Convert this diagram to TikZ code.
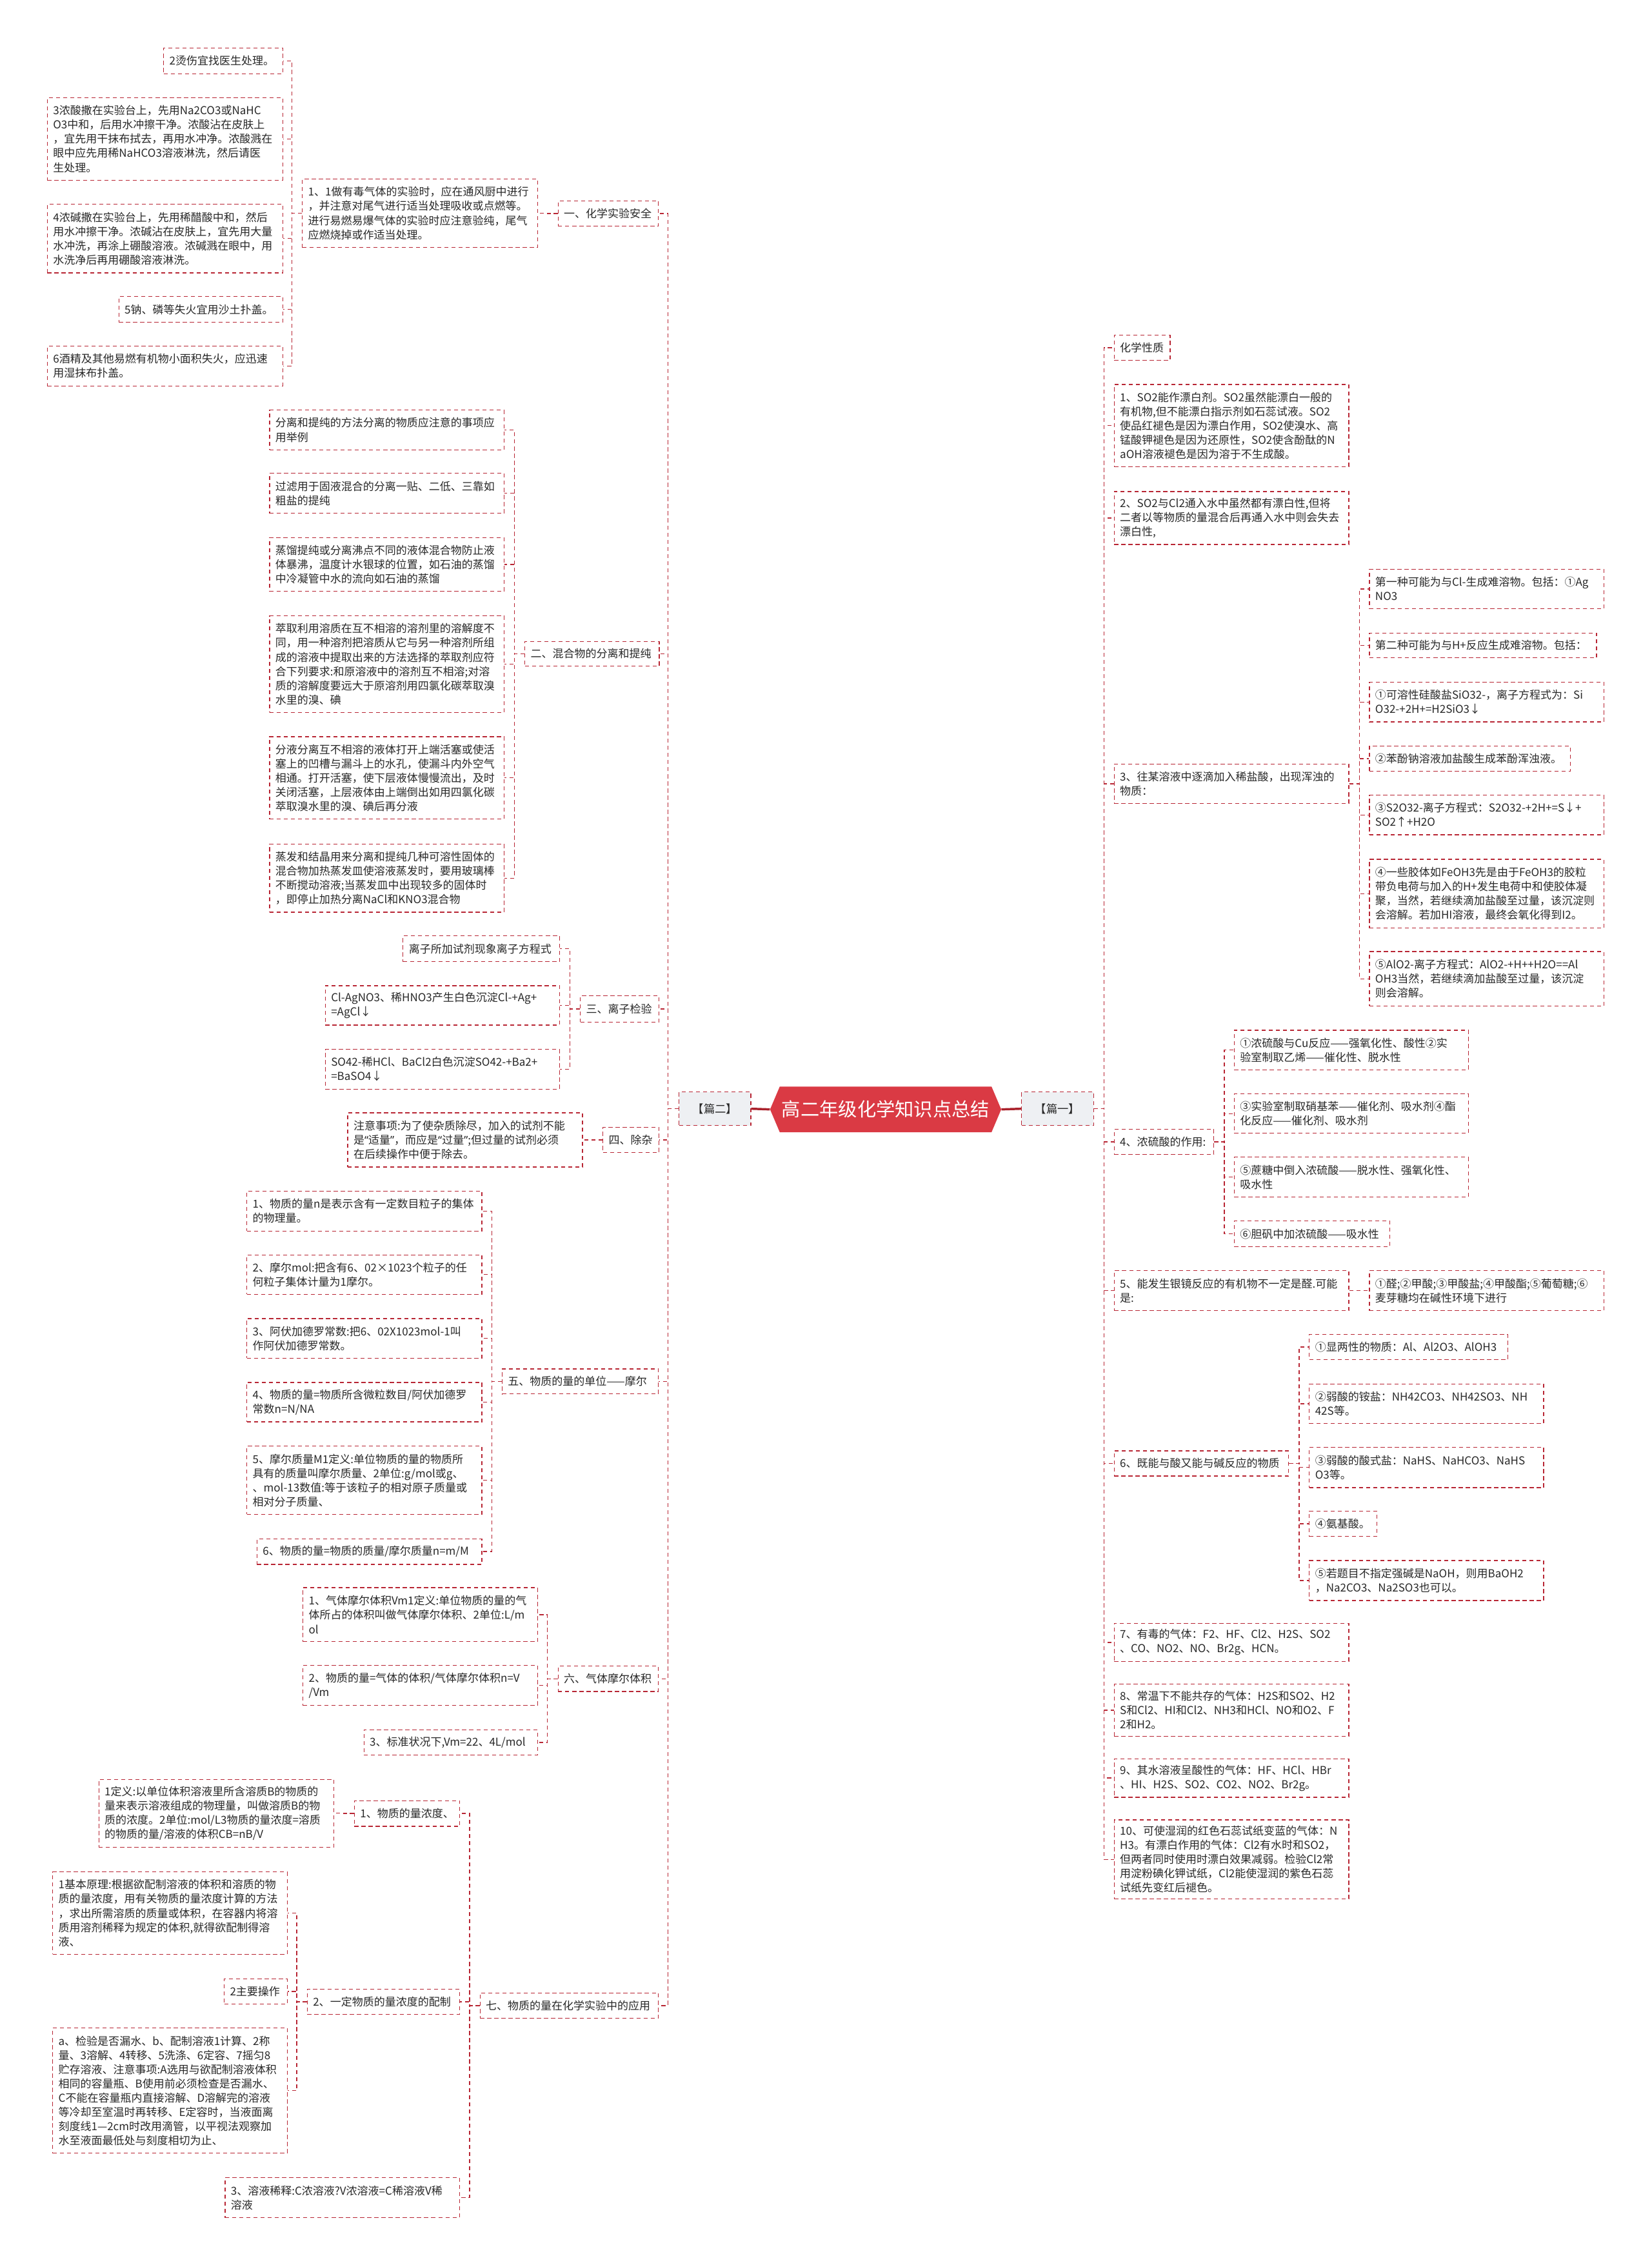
\documentclass[tikz,border=0pt]{standalone}
\usepackage{fontspec}
\setmainfont{Noto Sans CJK SC}
\newfontfamily\latq{Noto Sans}
\usepackage{tikz}
\usetikzlibrary{shapes.symbols}
\definecolor{mred}{RGB}{184,38,52}
\definecolor{tred}{RGB}{218,58,68}
\definecolor{dred}{RGB}{170,34,44}
\definecolor{pgray}{RGB}{238,240,243}
\definecolor{tgray}{RGB}{40,40,40}
\exhyphenpenalty=10000
\hyphenpenalty=10000

\begin{document}
\begin{tikzpicture}[x=0.05cm, y=-0.05cm,
    leaf/.style={draw=mred, line width=0.8pt, dash pattern=on 4pt off 3pt, fill=white,
        anchor=north west, align=left, inner xsep=0.2cm, inner ysep=2pt, text=tgray,
        font=\fontsize{10.8}{14}\selectfont},
    twig/.style={draw=mred, line width=0.8pt, dash pattern=on 4pt off 3pt},
    part/.style={draw=mred, line width=0.8pt, dash pattern=on 4pt off 3pt, fill=pgray,
        minimum width=2.485cm, minimum height=1.165cm, text=tgray,
        font=\fontsize{11}{14}\selectfont},
    title/.style={shape=signal, signal to=west and east, signal pointer angle=134,
        fill=tred, text=white, minimum width=8cm, minimum height=1.58cm, inner sep=0pt,
        font=\fontsize{18.6}{20}\selectfont},
    trunk/.style={draw=dred, line width=2.2pt}]
    \fill[white] (0,0) rectangle (1143,1567.6);
    \useasboundingbox (0,0) rectangle (1143,1567.6);

    \node[title] (top) at (613,767.8) {高二年级化学知识点总结};
    \node[part] (p2) at (494.85,767.35) {【篇二】};
    \node[part] (p1) at (732,767.35) {【篇一】};
    \draw[trunk] (top.west) -- (p2.east);
    \draw[trunk] (top.east) -- (p1.west);

    \node[leaf, text width=3.07cm, minimum height=0.88cm] (L1) at (386,138.7) {一、化学实验安全};
    \node[leaf, text width=7.75cm, minimum height=2.37cm] (L1a) at (209,123.6)
        {1、1做有毒气体的实验时，应在通风厨中进行\\，并注意对尾气进行适当处理吸收或点燃等。\\进行易燃易爆气体的实验时应注意验纯，尾气\\应燃烧掉或作适当处理。};
    \node[leaf, text width=3.73cm, minimum height=0.89cm] (L1a1) at (113,32.9) {2烫伤宜找医生处理。};
    \node[leaf, text width=7.745cm, minimum height=2.85cm] (L1a2) at (32.5,67.4)
        {3浓酸撒在实验台上，先用Na2CO3或NaHC\\O3中和，后用水冲擦干净。浓酸沾在皮肤上\\，宜先用干抹布拭去，再用水冲净。浓酸溅在\\眼中应先用稀NaHCO3溶液淋洗，然后请医\\生处理。};
    \node[leaf, text width=7.745cm, minimum height=2.38cm] (L1a3) at (32.5,141)
        {4浓碱撒在实验台上，先用稀醋酸中和，然后\\用水冲擦干净。浓碱沾在皮肤上，宜先用大量\\水冲洗，再涂上硼酸溶液。浓碱溅在眼中，用\\水洗净后再用硼酸溶液淋洗。};
    \node[leaf, text width=5.27cm, minimum height=0.89cm] (L1a4) at (82,205) {5钠、磷等失火宜用沙土扑盖。};
    \node[leaf, text width=7.745cm, minimum height=1.375cm] (L1a5) at (32.5,239.3)
        {6酒精及其他易燃有机物小面积失火，应迅速\\用湿抹布扑盖。};

    \node[leaf, text width=4.25cm, minimum height=0.86cm] (L2) at (363,443.6) {二、混合物的分离和提纯};
    \node[leaf, text width=7.715cm, minimum height=1.37cm] (L2a) at (186.3,283.6)
        {分离和提纯的方法分离的物质应注意的事项应\\用举例};
    \node[leaf, text width=7.715cm, minimum height=1.385cm] (L2b) at (186.3,327.3)
        {过滤用于固液混合的分离一贴、二低、三靠如\\粗盐的提纯};
    \node[leaf, text width=7.715cm, minimum height=1.86cm] (L2c) at (186.3,371.8)
        {蒸馏提纯或分离沸点不同的液体混合物防止液\\体暴沸，温度计水银球的位置，如石油的蒸馏\\中冷凝管中水的流向如石油的蒸馏};
    \node[leaf, text width=7.715cm, minimum height=3.34cm] (L2d) at (186.3,426)
        {萃取利用溶质在互不相溶的溶剂里的溶解度不\\同，用一种溶剂把溶质从它与另一种溶剂所组\\成的溶液中提取出来的方法选择的萃取剂应符\\合下列要求:和原溶液中的溶剂互不相溶;对溶\\质的溶解度要远大于原溶剂用四氯化碳萃取溴\\水里的溴、碘};
    \node[leaf, text width=7.715cm, minimum height=2.85cm] (L2e) at (186.3,509.6)
        {分液分离互不相溶的液体打开上端活塞或使活\\塞上的凹槽与漏斗上的水孔，使漏斗内外空气\\相通。打开活塞，使下层液体慢慢流出，及时\\关闭活塞，上层液体由上端倒出如用四氯化碳\\萃取溴水里的溴、碘后再分液};
    \node[leaf, text width=7.715cm, minimum height=2.355cm] (L2f) at (186.3,583.9)
        {蒸发和结晶用来分离和提纯几种可溶性固体的\\混合物加热蒸发皿使溶液蒸发时，要用玻璃棒\\不断搅动溶液;当蒸发皿中出现较多的固体时\\，即停止加热分离NaCl和KNO3混合物};

    \node[leaf, text width=2.325cm, minimum height=0.9cm] (L3) at (401.4,689) {三、离子检验};
    \node[leaf, text width=5.015cm, minimum height=0.895cm] (L3a) at (278.7,647.4) {离子所加试剂现象离子方程式};
    \node[leaf, text width=7.705cm, minimum height=1.365cm] (L3b) at (224.9,681.9)
        {Cl-AgNO3、稀HNO3产生白色沉淀Cl-+Ag+\\=AgCl↓};
    \node[leaf, text width=7.705cm, minimum height=1.375cm] (L3c) at (224.9,726)
        {SO42-稀HCl、BaCl2白色沉淀SO42-+Ba2+\\=BaSO4↓};

    \node[leaf, text width=1.545cm, minimum height=0.875cm] (L4) at (417,779.9) {四、除杂};
    \node[leaf, text width=7.725cm, minimum height=1.875cm] (L4a) at (240.4,769.9)
        {注意事项:为了使杂质除尽，加入的试剂不能\\是{\latq “}适量{\latq ”}，而应是{\latq “}过量{\latq ”};但过量的试剂必须\\在后续操作中便于除去。};

    \node[leaf, text width=5.01cm, minimum height=0.865cm] (L5) at (347.3,947.1) {五、物质的量的单位——摩尔};
    \node[leaf, text width=7.735cm, minimum height=1.39cm] (L5a) at (170.6,824)
        {1、物质的量n是表示含有一定数目粒子的集体\\的物理量。};
    \node[leaf, text width=7.735cm, minimum height=1.365cm] (L5b) at (170.6,868.2)
        {2、摩尔mol:把含有6、02×1023个粒子的任\\何粒子集体计量为1摩尔。};
    \node[leaf, text width=7.735cm, minimum height=1.37cm] (L5c) at (170.6,912.3)
        {3、阿伏加德罗常数:把6、02X1023mol-1叫\\作阿伏加德罗常数。};
    \node[leaf, text width=7.735cm, minimum height=1.365cm] (L5d) at (170.6,956.5)
        {4、物质的量=物质所含微粒数目/阿伏加德罗\\常数n=N/NA};
    \node[leaf, text width=7.735cm, minimum height=2.36cm] (L5e) at (170.6,1000.6)
        {5、摩尔质量M1定义:单位物质的量的物质所\\具有的质量叫摩尔质量、2单位:g/mol或g、\\、mol-13数值:等于该粒子的相对原子质量或\\相对分子质量、};
    \node[leaf, text width=7.385cm, minimum height=0.885cm] (L5f) at (177.6,1064.7)
        {6、物质的量=物质的质量/摩尔质量n=m/M};

    \node[leaf, text width=3.07cm, minimum height=0.885cm] (L6) at (386,1152.7) {六、气体摩尔体积};
    \node[leaf, text width=7.72cm, minimum height=1.87cm] (L6a) at (209.4,1098.5)
        {1、气体摩尔体积Vm1定义:单位物质的量的气\\体所占的体积叫做气体摩尔体积、2单位:L/m\\ol};
    \node[leaf, text width=7.72cm, minimum height=1.38cm] (L6b) at (209.4,1152.4)
        {2、物质的量=气体的体积/气体摩尔体积n=V\\/Vm};
    \node[leaf, text width=5.61cm, minimum height=0.87cm] (L6c) at (251.6,1196.9)
        {3、标准状况下,Vm=22、4L/mol};

    \node[leaf, text width=5.77cm, minimum height=0.88cm] (L7) at (332,1379) {七、物质的量在化学实验中的应用};
    \node[leaf, text width=3.25cm, minimum height=0.89cm] (L7a) at (245,1245.9) {1、物质的量浓度、};
    \node[leaf, text width=7.74cm, minimum height=2.35cm] (L7a1) at (68.1,1231.2)
        {1定义:以单位体积溶液里所含溶质B的物质的\\量来表示溶液组成的物理量，叫做溶质B的物\\质的浓度。2单位:mol/L3物质的量浓度=溶质\\的物质的量/溶液的体积CB=nB/V};
    \node[leaf, text width=4.87cm, minimum height=0.875cm] (L7b) at (212.4,1376.4) {2、一定物质的量浓度的配制};
    \node[leaf, text width=7.715cm, minimum height=2.845cm] (L7b1) at (36.2,1295.3)
        {1基本原理:根据欲配制溶液的体积和溶质的物\\质的量浓度，用有关物质的量浓度计算的方法\\，求出所需溶质的质量或体积，在容器内将溶\\质用溶剂稀释为规定的体积,就得欲配制得溶\\液、};
    \node[leaf, text width=1.78cm, minimum height=0.87cm] (L7b2) at (154.9,1369.3) {2主要操作};
    \node[leaf, text width=7.715cm, minimum height=4.335cm] (L7b3) at (36.2,1403.3)
        {a、检验是否漏水、b、配制溶液1计算、2称\\量、3溶解、4转移、5洗涤、6定容、7摇匀8\\贮存溶液、注意事项:A选用与欲配制溶液体积\\相同的容量瓶、B使用前必须检查是否漏水、\\C不能在容量瓶内直接溶解、D溶解完的溶液\\等冷却至室温时再转移、E定容时，当液面离\\刻度线1—2cm时改用滴管，以平视法观察加\\水至液面最低处与刻度相切为止、};
    \node[leaf, text width=7.715cm, minimum height=1.385cm] (L7c) at (155.5,1506.8)
        {3、溶液稀释:C浓溶液?V浓溶液=C稀溶液V稀\\溶液};

    \node[leaf, text width=1.535cm, minimum height=0.865cm] (R0) at (770.9,231.7) {化学性质};
    \node[leaf, text width=7.72cm, minimum height=2.85cm] (R1) at (770.9,265.8)
        {1、SO2能作漂白剂。SO2虽然能漂白一般的\\有机物,但不能漂白指示剂如石蕊试液。SO2\\使品红褪色是因为漂白作用，SO2使溴水、高\\锰酸钾褪色是因为还原性，SO2使含酚酞的N\\aOH溶液褪色是因为溶于不生成酸。};
    \node[leaf, text width=7.72cm, minimum height=1.835cm] (R2) at (770.9,339.9)
        {2、SO2与Cl2通入水中虽然都有漂白性,但将\\二者以等物质的量混合后再通入水中则会失去\\漂白性,};
    \node[leaf, text width=7.72cm, minimum height=1.365cm] (R3) at (770.9,528.5)
        {3、往某溶液中逐滴加入稀盐酸，出现浑浊的\\物质：};
    \node[leaf, text width=7.71cm, minimum height=1.37cm] (R3a) at (947.6,393.6)
        {第一种可能为与Cl-生成难溶物。包括：①Ag\\NO3};
    \node[leaf, text width=7.46cm, minimum height=0.86cm] (R3b) at (947.6,437.8)
        {第二种可能为与H+反应生成难溶物。包括：};
    \node[leaf, text width=7.71cm, minimum height=1.365cm] (R3c) at (947.6,472)
        {①可溶性硅酸盐SiO32-，离子方程式为：Si\\O32-+2H+=H2SiO3↓};
    \node[leaf, text width=6.55cm, minimum height=0.875cm] (R3d) at (947.6,516)
        {②苯酚钠溶液加盐酸生成苯酚浑浊液。};
    \node[leaf, text width=7.71cm, minimum height=1.37cm] (R3e) at (947.6,550.1)
        {③S2O32-离子方程式：S2O32-+2H+=S↓+\\SO2↑+H2O};
    \node[leaf, text width=7.71cm, minimum height=2.38cm] (R3f) at (947.6,594.4)
        {④一些胶体如FeOH3先是由于FeOH3的胶粒\\带负电荷与加入的H+发生电荷中和使胶体凝\\聚，当然，若继续滴加盐酸至过量，该沉淀则\\会溶解。若加HI溶液，最终会氧化得到I2。};
    \node[leaf, text width=7.71cm, minimum height=1.885cm] (R3g) at (947.6,658.3)
        {⑤AlO2-离子方程式：AlO2-+H++H2O==Al\\OH3当然，若继续滴加盐酸至过量，该沉淀\\则会溶解。};

    \node[leaf, text width=3.05cm, minimum height=0.875cm] (R4) at (770.9,781.2) {4、浓硫酸的作用:};
    \node[leaf, text width=7.7cm, minimum height=1.375cm] (R4a) at (854,712.7)
        {①浓硫酸与Cu反应——强氧化性、酸性②实\\验室制取乙烯——催化性、脱水性};
    \node[leaf, text width=7.7cm, minimum height=1.37cm] (R4b) at (854,756.7)
        {③实验室制取硝基苯——催化剂、吸水剂④酯\\化反应——催化剂、吸水剂};
    \node[leaf, text width=7.7cm, minimum height=1.385cm] (R4c) at (854,800.6)
        {⑤蔗糖中倒入浓硫酸——脱水性、强氧化性、\\吸水性};
    \node[leaf, text width=4.985cm, minimum height=0.895cm] (R4d) at (854,844.7)
        {⑥胆矾中加浓硫酸——吸水性};

    \node[leaf, text width=7.72cm, minimum height=1.395cm] (R5) at (770.9,879)
        {5、能发生银镜反应的有机物不一定是醛.可能\\是:};
    \node[leaf, text width=7.71cm, minimum height=1.395cm] (R5a) at (947.6,879)
        {①醛;②甲酸;③甲酸盐;④甲酸酯;⑤葡萄糖;⑥\\麦芽糖均在碱性环境下进行};

    \node[leaf, text width=5.635cm, minimum height=0.875cm] (R6) at (770.9,1003.8) {6、既能与酸又能与碱反应的物质};
    \node[leaf, text width=6.465cm, minimum height=0.88cm] (R6a) at (906,923.2)
        {①显两性的物质：Al、Al2O3、AlOH3};
    \node[leaf, text width=7.71cm, minimum height=1.375cm] (R6b) at (906,957.5)
        {②弱酸的铵盐：NH42CO3、NH42SO3、NH\\42S等。};
    \node[leaf, text width=7.71cm, minimum height=1.395cm] (R6c) at (906,1001.4)
        {③弱酸的酸式盐：NaHS、NaHCO3、NaHS\\O3等。};
    \node[leaf, text width=1.935cm, minimum height=0.88cm] (R6d) at (906,1045.5) {④氨基酸。};
    \node[leaf, text width=7.71cm, minimum height=1.38cm] (R6e) at (906,1079.8)
        {⑤若题目不指定强碱是NaOH，则用BaOH2\\，Na2CO3、Na2SO3也可以。};

    \node[leaf, text width=7.72cm, minimum height=1.32cm] (R7) at (770.9,1123.2)
        {7、有毒的气体：F2、HF、Cl2、H2S、SO2\\、CO、NO2、NO、Br2g、HCN。};
    \node[leaf, text width=7.72cm, minimum height=1.795cm] (R8) at (770.9,1165.4)
        {8、常温下不能共存的气体：H2S和SO2、H2\\S和Cl2、HI和Cl2、NH3和HCl、NO和O2、F\\2和H2。};
    \node[leaf, text width=7.72cm, minimum height=1.335cm] (R9) at (770.9,1216.9)
        {9、其水溶液呈酸性的气体：HF、HCl、HBr\\、HI、H2S、SO2、CO2、NO2、Br2g。};
    \node[leaf, text width=7.72cm, minimum height=2.74cm] (R10) at (770.9,1259.2)
        {10、可使湿润的红色石蕊试纸变蓝的气体：N\\H3。有漂白作用的气体：Cl2有水时和SO2，\\但两者同时使用时漂白效果减弱。检验Cl2常\\用淀粉碘化钾试纸，Cl2能使湿润的紫色石蕊\\试纸先变红后褪色。};

    \foreach \s in {L1,L2,L3,L4,L5,L6,L7}
        \draw[twig] (p2.west) -- ++(-7.5,0) |- (\s.east);
    \foreach \s in {R0,R1,R2,R3,R4,R5,R6,R7,R8,R9,R10}
        \draw[twig] (p1.east) -- ++(7,0) |- (\s.west);

    \draw[twig] (L1.west) -- ++(-7,0) |- (L1a.east);
    \foreach \c in {L1a1,L1a2,L1a3,L1a4,L1a5}
        \draw[twig] (L1a.west) -- ++(-7,0) |- (\c.east);
    \foreach \c in {L2a,L2b,L2c,L2d,L2e,L2f}
        \draw[twig] (L2.west) -- ++(-7,0) |- (\c.east);
    \foreach \c in {L3a,L3b,L3c}
        \draw[twig] (L3.west) -- ++(-7,0) |- (\c.east);
    \draw[twig] (L4.west) -- ++(-7,0) |- (L4a.east);
    \foreach \c in {L5a,L5b,L5c,L5d,L5e,L5f}
        \draw[twig] (L5.west) -- ++(-7,0) |- (\c.east);
    \foreach \c in {L6a,L6b,L6c}
        \draw[twig] (L6.west) -- ++(-7,0) |- (\c.east);
    \foreach \c in {L7a,L7b,L7c}
        \draw[twig] (L7.west) -- ++(-7,0) |- (\c.east);
    \draw[twig] (L7a.west) -- ++(-7,0) |- (L7a1.east);
    \foreach \c in {L7b1,L7b2,L7b3}
        \draw[twig] (L7b.west) -- ++(-7,0) |- (\c.east);

    \foreach \c in {R3a,R3b,R3c,R3d,R3e,R3f,R3g}
        \draw[twig] (R3.east) -- ++(7,0) |- (\c.west);
    \foreach \c in {R4a,R4b,R4c,R4d}
        \draw[twig] (R4.east) -- ++(7,0) |- (\c.west);
    \draw[twig] (R5.east) -- ++(7,0) |- (R5a.west);
    \foreach \c in {R6a,R6b,R6c,R6d,R6e}
        \draw[twig] (R6.east) -- ++(7,0) |- (\c.west);
\end{tikzpicture}
\end{document}
